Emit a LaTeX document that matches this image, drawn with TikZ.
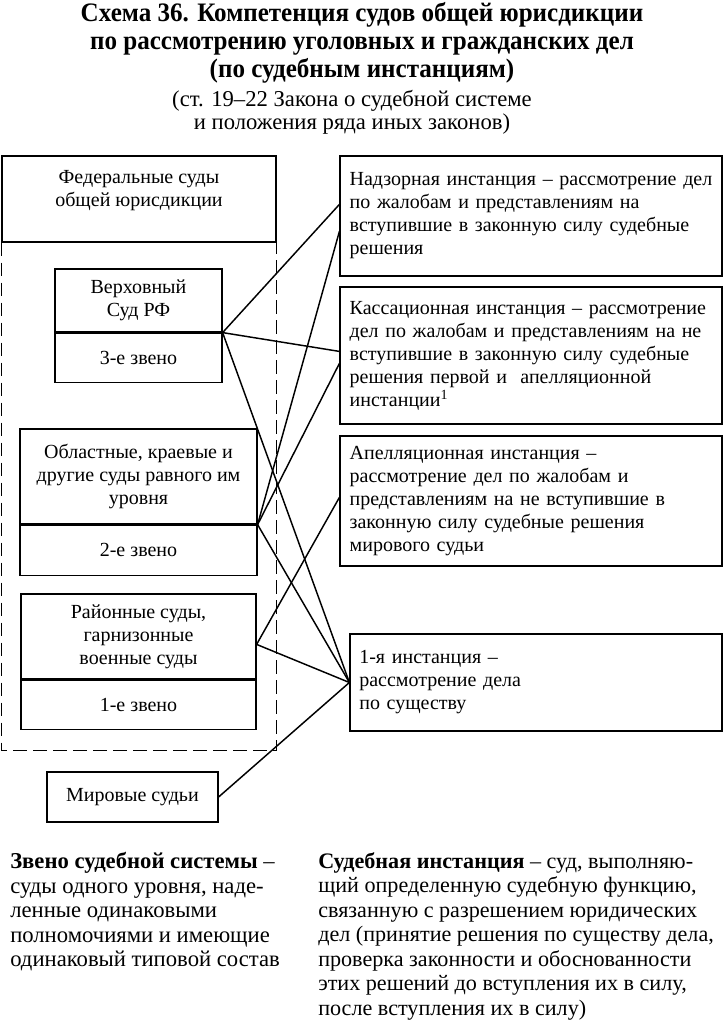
\documentclass[tikz,border=0pt]{standalone}
\usepackage{fontspec}
\setmainfont{Liberation Serif}
\newfontfamily\narrowfont[FakeStretch=0.94]{Liberation Serif}
\usetikzlibrary{positioning,calc}

\begin{document}
\begin{tikzpicture}[x=0.75pt,y=-0.75pt,
  box/.style={draw,line width=0.9pt,inner sep=0pt,align=center,font=\fontsize{15}{17.25}\selectfont},
  inst/.style={box,minimum width=286.5pt,text width=272pt,align=left},
  link/.style={line width=1.1pt}]
  \useasboundingbox (0,0) rectangle (724,1024);
  % heading
  \node[align=center,font=\narrowfont\bfseries\fontsize{20}{21}\selectfont] (title) at (362,43)
    {Схема 36. Компетенция судов общей юрисдикции\\по рассмотрению уголовных и гражданских дел\\(по судебным инстанциям)};
  \node[align=center,font=\fontsize{17}{17.25}\selectfont] (subtitle) at (352,112)
    {(ст. 19–22 Закона о судебной системе\\и положения ряда иных законов)};
  % federal courts
  \node[box,minimum width=205.5pt,minimum height=64.5pt] (fed) at (139,199)
    {Федеральные суды\\общей юрисдикции\\[-0.75pt]\mbox{}};
  \draw[line width=0.9pt,dash pattern=on 10pt off 5pt] (fed.south west) -- ++(0,508) -| (fed.south east);
  \node[box,minimum width=125.25pt,minimum height=47.25pt] (vs) at (138.5,300.5) {Верховный\\Суд РФ};
  \node[box,minimum width=125.25pt,minimum height=36.75pt,below=0pt of vs] (vs3) {3-е звено};
  \node[box,minimum width=177.75pt,minimum height=71.25pt] (obl) at (138.5,476.5)
    {Областные, краевые и\\другие суды равного им\\уровня};
  \node[box,minimum width=177.75pt,minimum height=37.5pt,below=0pt of obl] (obl2) {2-е звено};
  \node[box,minimum width=176.25pt,minimum height=63.75pt] (rai) at (138.5,636.5)
    {Районные суды,\\гарнизонные\\военные суды};
  \node[box,minimum width=176.25pt,minimum height=36.75pt,below=0pt of rai] (rai1) {1-е звено};
  \node[box,minimum width=128.25pt,minimum height=37.5pt] (mir) at (132.5,797) {Мировые судьи};
  % instances
  \node[inst,minimum height=90pt] (nadz) at (531,216)
    {Надзорная инстанция – рассмотрение дел\\по жалобам и представлениям на\\вступившие в законную силу судебные\\решения};
  \node[inst,minimum height=102.75pt] (kass) at (531,355.5)
    {Кассационная инстанция – рассмотрение\\дел по жалобам и представлениям на не\\вступившие в законную силу судебные\\решения первой и\ \ апелляционной\\инстанции\textsuperscript{1}};
  \node[inst,minimum height=97.5pt] (apel) at (531,501)
    {Апелляционная инстанция –\\рассмотрение дел по жалобам и\\представлениям на не вступившие в\\законную силу судебные решения\\мирового судьи};
  \node[box,minimum width=279pt,minimum height=72.75pt,text width=265pt,align=left] (first) at (536,682.5)
    {1-я инстанция –\\рассмотрение дела\\по существу};
  % ends of the links
  \coordinate (nadzA) at ($(nadz.north west)+(0,49)$);
  \coordinate (nadzB) at ($(nadz.north west)+(0,76)$);
  \coordinate (kassA) at ($(kass.north west)+(0,65)$);
  \coordinate (kassB) at ($(kass.north west)+(0,77)$);
  \coordinate (apelA) at ($(apel.north west)+(0,62)$);
  \coordinate (raiR) at ($(rai.north east)+(0,51)$);
  \foreach \a/\b in {vs.south east/nadzA,vs.south east/kassA,vs.south east/first.west,
                     obl.south east/nadzB,obl.south east/kassB,obl.south east/first.west,
                     raiR/apelA,raiR/first.west,mir.east/first.west}
    \draw[link] (\a) -- (\b);
  % definitions
  \node[anchor=north west,align=left,inner sep=0pt,font=\fontsize{17}{18.4}\selectfont] (zveno) at (10,852)
    {\textbf{Звено судебной системы} –\\суды одного уровня, наде-\\ленные одинаковыми\\полномочиями и имеющие\\одинаковый типовой состав};
  \node[anchor=north west,align=left,inner sep=0pt,font=\fontsize{16.6}{18.4}\selectfont] (instdef) at (318,852)
    {\textbf{Судебная инстанция} – суд, выполняю-\\щий определенную судебную функцию,\\связанную с разрешением юридических\\дел (принятие решения по существу дела,\\проверка законности и обоснованности\\этих решений до вступления их в силу,\\после вступления их в силу)};
\end{tikzpicture}
\end{document}
